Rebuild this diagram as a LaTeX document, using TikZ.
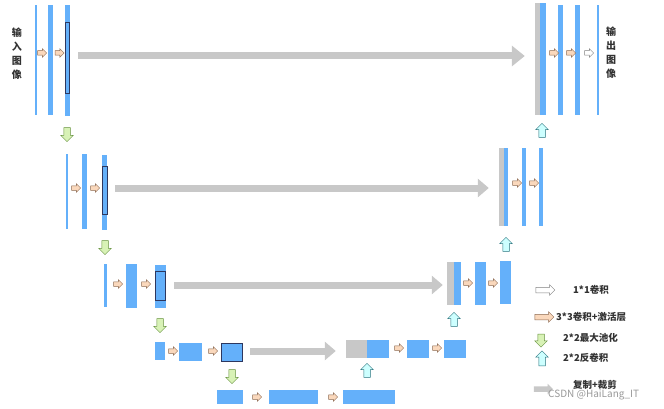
\documentclass[tikz,border=0pt]{standalone}
\usepackage{fontspec}
\setmainfont{Noto Sans CJK SC}
\usetikzlibrary{arrows.meta,positioning,calc,shapes.arrows}
\definecolor{unet@blue}{RGB}{100,176,250}
\definecolor{unet@gray}{RGB}{200,200,200}
\definecolor{unet@navy}{RGB}{45,55,95}
\definecolor{unet@tan}{RGB}{250,216,188}
\definecolor{unet@tanline}{RGB}{140,105,80}
\definecolor{unet@green}{RGB}{216,242,182}
\definecolor{unet@greenline}{RGB}{100,145,60}
\definecolor{unet@cyan}{RGB}{205,255,255}
\definecolor{unet@cyanline}{RGB}{40,115,125}
\definecolor{unet@text}{RGB}{50,50,50}
\tikzset{
  unet/.style={
    x=1pt, y=-1pt,
    every node/.style={font=\bfseries\fontsize{9.5}{14}\selectfont, text=unet@text}
  },
  fmap/.style 2 args={             % feature map bar
    rectangle, inner sep=0pt, fill=unet@blue, draw=none,
    minimum width=#1pt, minimum height=#2pt
  },
  cmap/.style 2 args={             % copied (cropped) half of a concat
    fmap={#1}{#2}, fill=unet@gray
  },
  crop/.style 2 args={             % crop window
    rectangle, inner sep=0pt, draw=unet@navy, line width=0.6pt,
    minimum width=#1pt, minimum height=#2pt
  },
  blockarrow/.style={single arrow, minimum width=0pt, line width=0.5pt},
  conv/.style={blockarrow, draw=unet@tanline, fill=unet@tan,
    inner sep=2pt, minimum height=9pt, single arrow head extend=2pt},
  pool/.style={blockarrow, draw=unet@greenline, fill=unet@green,
    shape border rotate=270, inner sep=3pt,
    minimum height=14pt, single arrow head extend=3pt},
  upconv/.style={blockarrow, draw=unet@cyanline, fill=unet@cyan,
    shape border rotate=90, inner sep=3pt,
    minimum height=14pt, single arrow head extend=3pt},
  oneconv/.style={blockarrow, draw=gray, fill=white,
    inner sep=2pt, minimum height=9pt, single arrow head extend=2pt},
  copyarrow/.style={draw=unet@gray, line width=7pt,
    shorten <=8pt, shorten >=10pt,
    -{Triangle[length=11pt, width=18pt]}},
  legend/.style={minimum height=19pt, inner sep=2.5pt,
    single arrow head extend=2.5pt},
  legtext/.style={anchor=west, inner sep=0pt},
  sidelabel/.style={align=center, font=\bfseries\fontsize{10}{14}\selectfont}
}
\begin{document}
\begin{tikzpicture}[unet]
\path[use as bounding box, fill=white] (0,0) rectangle (664,409);

% level 1 (contracting)
\node[fmap={2}{110}] (in1) at (35.5,60) {};
\node[fmap={5}{110}] (L1b) at (50.5,60) {};
\node[fmap={5}{111}] (L1c) at (67.5,60.5) {};
\node[crop={3.5}{71}] (L1k) at (67.5,57.5) {};
\node[conv] (c11) at (41,53) {};
\node[conv] (c12) at (58.5,53) {};
\node[pool] (p1) at (67,133) {};
\node[sidelabel] (inlbl) at (17,54) {输\\入\\图\\像};

% level 2
\node[fmap={2}{75}] (L2a) at (67,191.5) {};
\node[fmap={5}{75}] (L2b) at (84.5,191.5) {};
\node[fmap={5}{75}] (L2c) at (104.5,192.5) {};
\node[crop={4.5}{48}] (L2k) at (105,190) {};
\node[conv] (c21) at (75,188) {};
\node[conv] (c22) at (94,188) {};
\node[pool] (p2) at (105,246) {};

% level 3
\node[fmap={3}{43}] (L3a) at (105.5,285.5) {};
\node[fmap={11}{44}] (L3b) at (131.5,286) {};
\node[fmap={11}{43}] (L3c) at (160.5,286.5) {};
\node[crop={10}{29}] (L3k) at (160.5,285.5) {};
\node[conv] (c31) at (117,284) {};
\node[conv] (c32) at (145,284) {};
\node[pool] (p3) at (160,324) {};

% level 4
\node[fmap={10}{18}] (L4a) at (160,351) {};
\node[fmap={23}{18}] (L4b) at (190.5,352) {};
\node[fmap={21}{18}] (L4c) at (231.5,352) {};
\node[crop={21}{18}] (L4k) at (231.5,352) {};
\node[conv] (c41) at (172,351) {};
\node[conv] (c42) at (212,351) {};
\node[pool] (p4) at (232,375) {};

% bottom
\node[fmap={26}{14}] (B1) at (230,397) {};
\node[fmap={49}{14}] (B2) at (293.5,397) {};
\node[fmap={52}{14}] (B3) at (369,397) {};
\node[conv] (c51) at (256,397) {};
\node[conv] (c52) at (332,397) {};
\node[upconv] (u4) at (367,372) {};

% level 4 (expanding)
\node[cmap={21}{18}] (R4g) at (356.5,349) {};
\node[fmap={22}{18}] (R4b) at (378,349) {};
\node[fmap={22}{18}] (R4c) at (418,349) {};
\node[fmap={22}{18}] (R4d) at (455,349) {};
\node[conv] (d41) at (398,348) {};
\node[conv] (d42) at (436,348) {};
\node[upconv] (u3) at (454,321) {};

% level 3 (expanding)
\node[cmap={7}{43}] (R3g) at (450.5,283.5) {};
\node[fmap={7}{43}] (R3b) at (457.5,283.5) {};
\node[fmap={11}{43}] (R3c) at (480.5,283.5) {};
\node[fmap={11}{43}] (R3d) at (505.5,282.5) {};
\node[conv] (d31) at (467,283) {};
\node[conv] (d32) at (492,283) {};
\node[upconv] (u2) at (506,246) {};

% level 2 (expanding)
\node[cmap={5}{78}] (R2g) at (501.5,187) {};
\node[fmap={4}{78}] (R2b) at (506,187) {};
\node[fmap={4}{78}] (R2c) at (524,187) {};
\node[fmap={4}{78}] (R2d) at (541,187) {};
\node[conv] (d21) at (516,183) {};
\node[conv] (d22) at (533,183) {};
\node[upconv] (u1) at (542,132) {};

% level 1 (expanding)
\node[cmap={5}{112}] (R1g) at (537.5,59) {};
\node[fmap={6}{112}] (R1b) at (543,59) {};
\node[fmap={5}{110}] (R1c) at (560.5,60) {};
\node[fmap={5}{110}] (R1d) at (577.5,60) {};
\node[fmap={2}{110}] (out1) at (597.5,60) {};
\node[conv] (d11) at (553,53) {};
\node[conv] (d12) at (570,53) {};
\node[oneconv] (d13) at (588,53) {};
\node[sidelabel] (outlbl) at (611,53) {输\\出\\图\\像};

% copy and crop
\coordinate (s1) at (0,56);
\coordinate (s2) at (0,188);
\coordinate (s3) at (0,285);
\coordinate (s4) at (0,351);
\draw[copyarrow, -{Triangle[length=13pt, width=20pt]}] (L1c.east |- s1) -- (R1g.west |- s1);
\draw[copyarrow] (L2c.east |- s2) -- (R2g.west |- s2);
\draw[copyarrow, shorten >=4pt] (L3c.east |- s3) -- (R3g.west |- s3);
\draw[copyarrow] (L4c.east |- s4) -- (R4g.west |- s4);

% legend
\node[oneconv, legend] (k1) at (544,290) {};
\node[conv, legend] (k2) at (543,317) {};
\node[pool, minimum height=13pt] (k3) at (541,339) {};
\node[upconv, minimum height=15pt] (k4) at (542,360) {};
\node[blockarrow, fill=unet@gray, legend] (k5) at (542,389) {};
\node[legtext] (t1) at (573,290) {1*1卷积};
\node[legtext] (t2) at (556,317) {3*3卷积+激活层};
\node[legtext] (t3) at (563,338) {2*2最大池化};
\node[legtext] (t4) at (563,358) {2*2反卷积};
\node[legtext] (t5) at (573,385) {复制+裁剪};
\node[legtext, font=\fontsize{10}{12}\selectfont, text=gray!80] (wm) at (548,395) {CSDN @HaiLang\_IT};
\end{tikzpicture}
\end{document}
